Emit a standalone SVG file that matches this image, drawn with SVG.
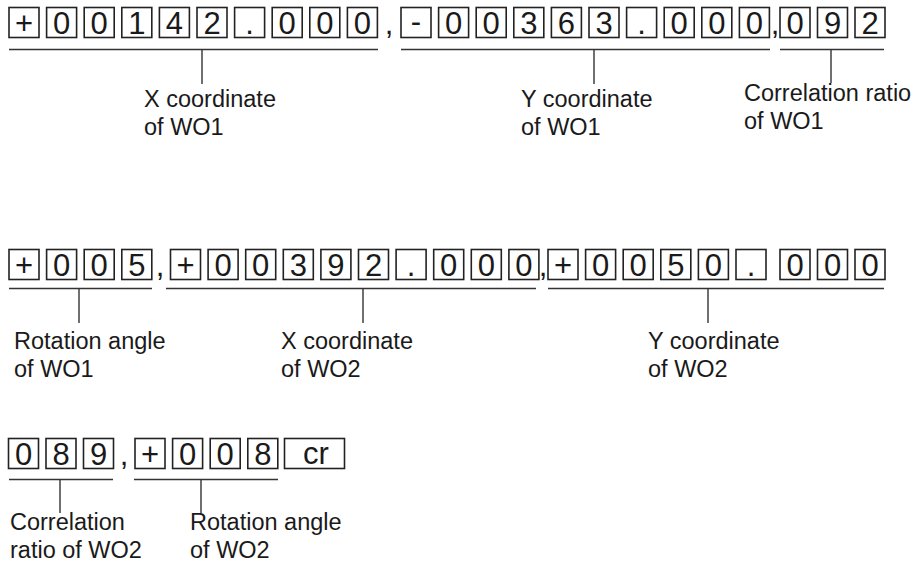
<svg xmlns="http://www.w3.org/2000/svg" width="924" height="569" viewBox="0 0 924 569">
<style>
.b{fill:#fff;stroke:#222;stroke-width:1.6}
.d{font-family:"Liberation Sans",Arial,sans-serif;font-size:31px;fill:#1a1a1a;text-anchor:middle}
.l{font-family:"Liberation Sans",Arial,sans-serif;font-size:23.5px;fill:#1a1a1a}
.c line{stroke:#333;stroke-width:1.4}
</style>
<rect width="924" height="569" fill="#fff"/>
<!-- Row 1 -->
<g id="r1-x">
<rect class="b" x="9" y="7.5" width="30" height="30"/><text class="d" x="24" y="34">+</text>
<rect class="b" x="46.6" y="7.5" width="30" height="30"/><text class="d" x="61.6" y="34">0</text>
<rect class="b" x="84.2" y="7.5" width="30" height="30"/><text class="d" x="99.2" y="34">0</text>
<rect class="b" x="121.8" y="7.5" width="30" height="30"/><text class="d" x="136.8" y="34">1</text>
<rect class="b" x="159.4" y="7.5" width="30" height="30"/><text class="d" x="174.4" y="34">4</text>
<rect class="b" x="197" y="7.5" width="30" height="30"/><text class="d" x="212" y="34">2</text>
<rect class="b" x="234.6" y="7.5" width="30" height="30"/><text class="d" x="249.6" y="34">.</text>
<rect class="b" x="272.2" y="7.5" width="30" height="30"/><text class="d" x="287.2" y="34">0</text>
<rect class="b" x="309.8" y="7.5" width="30" height="30"/><text class="d" x="324.8" y="34">0</text>
<rect class="b" x="347.4" y="7.5" width="30" height="30"/><text class="d" x="362.4" y="34">0</text>
</g>
<text class="d" x="389" y="34">,</text>
<g id="r1-y">
<rect class="b" x="401" y="7.5" width="30" height="30"/><text class="d" x="416" y="32">-</text>
<rect class="b" x="438.6" y="7.5" width="30" height="30"/><text class="d" x="453.6" y="34">0</text>
<rect class="b" x="476.2" y="7.5" width="30" height="30"/><text class="d" x="491.2" y="34">0</text>
<rect class="b" x="513.8" y="7.5" width="30" height="30"/><text class="d" x="528.8" y="34">3</text>
<rect class="b" x="551.4" y="7.5" width="30" height="30"/><text class="d" x="566.4" y="34">6</text>
<rect class="b" x="589" y="7.5" width="30" height="30"/><text class="d" x="604" y="34">3</text>
<rect class="b" x="626.6" y="7.5" width="30" height="30"/><text class="d" x="641.6" y="34">.</text>
<rect class="b" x="664.2" y="7.5" width="30" height="30"/><text class="d" x="679.2" y="34">0</text>
<rect class="b" x="701.8" y="7.5" width="30" height="30"/><text class="d" x="716.8" y="34">0</text>
<rect class="b" x="739.4" y="7.5" width="30" height="30"/><text class="d" x="754.4" y="34">0</text>
</g>
<text class="d" x="775" y="34">,</text>
<g id="r1-cr">
<rect class="b" x="780" y="7.5" width="30" height="30"/><text class="d" x="795" y="34">0</text>
<rect class="b" x="817.5" y="7.5" width="30" height="30"/><text class="d" x="832.5" y="34">9</text>
<rect class="b" x="855" y="7.5" width="30" height="30"/><text class="d" x="870" y="34">2</text>
</g>
<g id="lbl-x1"><text class="l" x="144" y="107">X coordinate</text><text class="l" x="144" y="135">of WO1</text></g>
<g id="lbl-y1"><text class="l" x="521" y="107">Y coordinate</text><text class="l" x="521" y="135">of WO1</text></g>
<g id="lbl-cr1"><text class="l" x="744" y="101">Correlation ratio</text><text class="l" x="744" y="129">of WO1</text></g>
<!-- Row 2 -->
<g id="r2-rot">
<rect class="b" x="9" y="249.5" width="30" height="30"/><text class="d" x="24" y="276">+</text>
<rect class="b" x="46.6" y="249.5" width="30" height="30"/><text class="d" x="61.6" y="276">0</text>
<rect class="b" x="84.2" y="249.5" width="30" height="30"/><text class="d" x="99.2" y="276">0</text>
<rect class="b" x="121.8" y="249.5" width="30" height="30"/><text class="d" x="136.8" y="276">5</text>
</g>
<text class="d" x="160" y="276">,</text>
<g id="r2-x">
<rect class="b" x="170.5" y="249.5" width="30" height="30"/><text class="d" x="185.5" y="276">+</text>
<rect class="b" x="208.1" y="249.5" width="30" height="30"/><text class="d" x="223.1" y="276">0</text>
<rect class="b" x="245.7" y="249.5" width="30" height="30"/><text class="d" x="260.7" y="276">0</text>
<rect class="b" x="283.3" y="249.5" width="30" height="30"/><text class="d" x="298.3" y="276">3</text>
<rect class="b" x="320.9" y="249.5" width="30" height="30"/><text class="d" x="335.9" y="276">9</text>
<rect class="b" x="358.5" y="249.5" width="30" height="30"/><text class="d" x="373.5" y="276">2</text>
<rect class="b" x="396.1" y="249.5" width="30" height="30"/><text class="d" x="411.1" y="276">.</text>
<rect class="b" x="433.7" y="249.5" width="30" height="30"/><text class="d" x="448.7" y="276">0</text>
<rect class="b" x="471.3" y="249.5" width="30" height="30"/><text class="d" x="486.3" y="276">0</text>
<rect class="b" x="508.9" y="249.5" width="30" height="30"/><text class="d" x="523.9" y="276">0</text>
</g>
<text class="d" x="543" y="276">,</text>
<g id="r2-y">
<rect class="b" x="548" y="249.5" width="30" height="30"/><text class="d" x="563" y="276">+</text>
<rect class="b" x="585.6" y="249.5" width="30" height="30"/><text class="d" x="600.6" y="276">0</text>
<rect class="b" x="623.2" y="249.5" width="30" height="30"/><text class="d" x="638.2" y="276">0</text>
<rect class="b" x="660.8" y="249.5" width="30" height="30"/><text class="d" x="675.8" y="276">5</text>
<rect class="b" x="698.4" y="249.5" width="30" height="30"/><text class="d" x="713.4" y="276">0</text>
<rect class="b" x="736" y="249.5" width="30" height="30"/><text class="d" x="751" y="276">.</text>
<rect class="b" x="780" y="249.5" width="30" height="30"/><text class="d" x="795" y="276">0</text>
<rect class="b" x="817.5" y="249.5" width="30" height="30"/><text class="d" x="832.5" y="276">0</text>
<rect class="b" x="855" y="249.5" width="30" height="30"/><text class="d" x="870" y="276">0</text>
</g>
<g id="lbl-rot1"><text class="l" x="14" y="349">Rotation angle</text><text class="l" x="14" y="377">of WO1</text></g>
<g id="lbl-x2"><text class="l" x="281" y="349">X coordinate</text><text class="l" x="281" y="377">of WO2</text></g>
<g id="lbl-y2"><text class="l" x="648" y="349">Y coordinate</text><text class="l" x="648" y="377">of WO2</text></g>
<!-- Row 3 -->
<g id="r3-cr">
<rect class="b" x="8.5" y="438.5" width="30" height="30"/><text class="d" x="23.5" y="465">0</text>
<rect class="b" x="46" y="438.5" width="30" height="30"/><text class="d" x="61" y="465">8</text>
<rect class="b" x="83.5" y="438.5" width="30" height="30"/><text class="d" x="98.5" y="465">9</text>
</g>
<text class="d" x="124" y="465">,</text>
<g id="r3-rot">
<rect class="b" x="135" y="438.5" width="30" height="30"/><text class="d" x="150" y="465">+</text>
<rect class="b" x="172.6" y="438.5" width="30" height="30"/><text class="d" x="187.6" y="465">0</text>
<rect class="b" x="210.2" y="438.5" width="30" height="30"/><text class="d" x="225.2" y="465">0</text>
<rect class="b" x="247.8" y="438.5" width="30" height="30"/><text class="d" x="262.8" y="465">8</text>
</g>
<g id="r3-end">
<rect class="b" x="284.5" y="438.5" width="60" height="30"/><text class="d" x="316" y="464">cr</text>
</g>
<g id="lbl-cr2"><text class="l" x="10" y="530">Correlation</text><text class="l" x="10" y="558">ratio of WO2</text></g>
<g id="lbl-rot2"><text class="l" x="190" y="530">Rotation angle</text><text class="l" x="190" y="558">of WO2</text></g>
<!-- connectors -->
<g id="connectors" class="c">
<line x1="9" y1="49.5" x2="378" y2="49.5"/><line x1="202" y1="49.5" x2="202" y2="84"/>
<line x1="401" y1="49.5" x2="770" y2="49.5"/><line x1="594" y1="49.5" x2="594" y2="84"/>
<line x1="780" y1="49.5" x2="884" y2="49.5"/><line x1="831" y1="49.5" x2="831" y2="83"/>
<line x1="9" y1="288.5" x2="152" y2="288.5"/><line x1="79" y1="288.5" x2="79" y2="323"/>
<line x1="166" y1="288.5" x2="536" y2="288.5"/><line x1="363" y1="288.5" x2="363" y2="323"/>
<line x1="548" y1="288.5" x2="884" y2="288.5"/><line x1="708" y1="288.5" x2="708" y2="323"/>
<line x1="9" y1="479.5" x2="113" y2="479.5"/><line x1="60" y1="479.5" x2="60" y2="513"/>
<line x1="134" y1="479.5" x2="278" y2="479.5"/><line x1="201" y1="479.5" x2="201" y2="513"/>
</g>
</svg>
